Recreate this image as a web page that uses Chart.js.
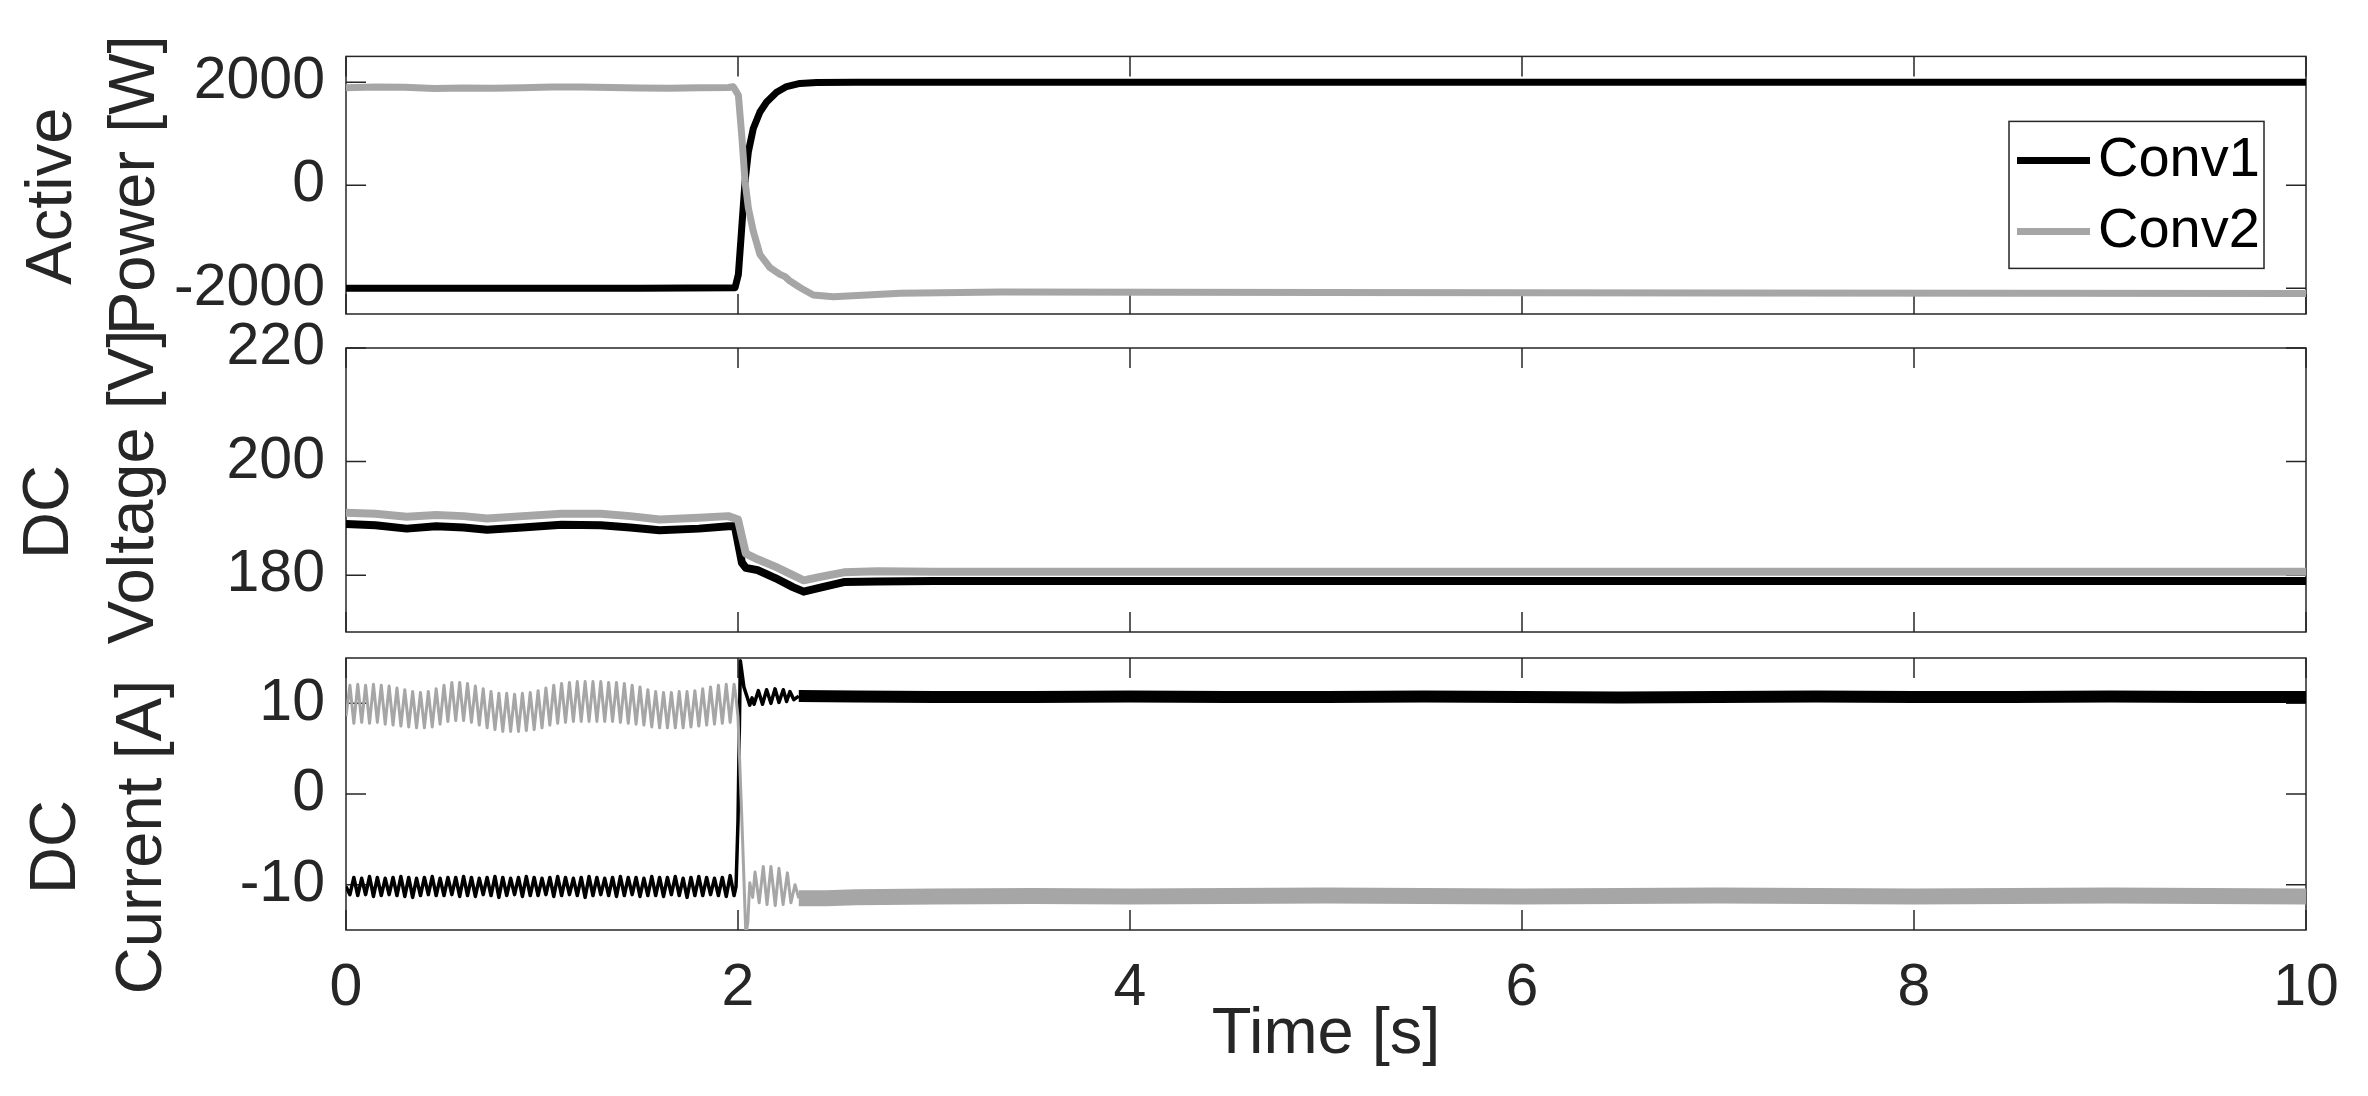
<!DOCTYPE html>
<html>
<head>
<meta charset="utf-8">
<script src="https://cdn.jsdelivr.net/npm/chart.js@4.4.1/dist/chart.umd.min.js"></script>
<style>
  html, body { margin: 0; padding: 0; background: #fff; }
  #wrap { position: relative; width: 2368px; height: 1096px; }
  #wrap canvas { position: absolute; left: 0; top: 0; }
</style>
</head>
<body>
<div id="wrap">
  <canvas id="pCanvas" width="2368" height="1096" style="width:2368px;height:1096px"></canvas>
  <canvas id="vCanvas" width="2368" height="1096" style="width:2368px;height:1096px"></canvas>
  <canvas id="iCanvas" width="2368" height="1096" style="width:2368px;height:1096px"></canvas>
</div>
<script>
const FONT = "'Liberation Sans', Arial, Helvetica, sans-serif";
const INK = '#262626';
const BLACK = '#000000';
const GREY = '#a6a6a6';

const SERIES = ['Conv1', 'Conv2'];
const X_TICKS = [0, 2, 4, 6, 8, 10];
const P_TICKS = [-2000, 0, 2000];
const V_TICKS = [180, 200, 220];
const I_TICKS = [-10, 0, 10];

// active power [W]
const P1_T = [0, 0.5, 1.0, 1.5, 1.985, 2.002, 2.019, 2.036, 2.053, 2.078, 2.112, 2.146, 2.197, 2.248, 2.316, 2.401, 2.6, 4, 6, 8, 10];
const P1 = [-2000, -2000, -2000, -2000, -1990, -1730, -830, 70, 650, 1100, 1420, 1615, 1805, 1915, 1975, 1995, 2000, 2000, 2000, 2000, 2000];
const P2_T = [0, 0.15, 0.3, 0.45, 0.6, 0.75, 0.9, 1.05, 1.2, 1.35, 1.5, 1.65, 1.8, 1.95, 1.976, 2.002, 2.019, 2.036, 2.053, 2.078, 2.112, 2.163, 2.214, 2.24, 2.265, 2.316, 2.384, 2.486, 2.657, 2.827, 3.34, 5, 7, 10];
const P2 = [1890, 1905, 1900, 1875, 1885, 1880, 1890, 1905, 1905, 1895, 1885, 1880, 1890, 1895, 1910, 1745, 970, 70, -445, -895, -1345, -1600, -1730, -1775, -1860, -1985, -2130, -2165, -2130, -2095, -2075, -2085, -2090, -2100];

// dc voltage [V]
const V1_T = [0, 0.15, 0.31, 0.46, 0.6, 0.72, 0.9, 1.1, 1.3, 1.45, 1.6, 1.8, 1.95, 1.984, 2.02, 2.04, 2.1, 2.19, 2.28, 2.335, 2.42, 2.54, 2.71, 3.0, 5, 7, 10];
const V1 = [189.0, 188.8, 188.2, 188.6, 188.4, 188.0, 188.4, 188.9, 188.8, 188.4, 187.9, 188.2, 188.6, 188.6, 182.2, 181.3, 180.9, 179.5, 177.9, 177.1, 177.8, 178.8, 178.9, 179.0, 179.0, 179.0, 179.0];
const V2_T = [0, 0.15, 0.31, 0.46, 0.6, 0.72, 0.9, 1.1, 1.3, 1.45, 1.6, 1.8, 1.95, 2.0, 2.04, 2.1, 2.19, 2.28, 2.335, 2.42, 2.54, 2.71, 3.0, 5, 7, 10];
const V2 = [191.0, 190.8, 190.3, 190.6, 190.4, 190.0, 190.4, 190.8, 190.8, 190.4, 189.8, 190.1, 190.4, 189.8, 183.8, 182.8, 181.5, 180.0, 179.1, 179.7, 180.5, 180.7, 180.6, 180.6, 180.6, 180.6];

// dc current [A], before the step: one sample every PRE_STEP seconds
const PRE_STEP = 0.02;
const I1_PRE = [
  -10.2, -11.1, -9.2, -11.2, -9.3, -11.1, -9.1, -11.3, -9.2, -11.2,
  -9.3, -11.1, -9.2, -11.2, -9.1, -11.3, -9.2, -11.4, -9.3, -11.2,
  -9.2, -11.1, -9.1, -11.2, -9.3, -11.2, -9.2, -11.1, -9.2, -11.3,
  -9.1, -11.2, -9.2, -11.3, -9.3, -11.1, -9.2, -11.2, -9.1, -11.4,
  -9.2, -11.2, -9.3, -11.1, -9.2, -11.3, -9.1, -11.2, -9.2, -11.2,
  -9.3, -11.1, -9.2, -11.3, -9.1, -11.2, -9.2, -11.1, -9.3, -11.2,
  -9.2, -11.4, -9.1, -11.2, -9.2, -11.1, -9.3, -11.2, -9.2, -11.3,
  -9.1, -11.2, -9.2, -11.1, -9.2, -11.3, -9.3, -11.2, -9.1, -11.2,
  -9.2, -11.3, -9.2, -11.1, -9.1, -11.2, -9.3, -11.4, -9.2, -11.2,
  -9.1, -11.2, -9.2, -11.1, -9.3, -11.2, -9.2, -11.3, -9.0, -11.2
];
const I2_PRE = [
  8.6, 12.0, 7.8, 12.1, 7.9, 12.0, 7.8, 12.1, 7.9, 12.0,
  7.7, 11.9, 7.6, 11.7, 7.5, 11.5, 7.4, 11.3, 7.3, 11.2,
  7.3, 11.3, 7.4, 11.6, 7.7, 12.0, 8.0, 12.3, 8.1, 12.3,
  8.1, 12.2, 7.9, 11.9, 7.6, 11.6, 7.3, 11.3, 7.1, 11.1,
  6.9, 11.1, 6.9, 11.0, 6.9, 11.1, 7.0, 11.2, 7.1, 11.4,
  7.3, 11.7, 7.6, 12.0, 7.8, 12.2, 7.9, 12.3, 8.0, 12.4,
  8.0, 12.4, 8.0, 12.4, 8.0, 12.4, 8.0, 12.3, 8.0, 12.3,
  7.9, 12.2, 7.8, 12.0, 7.7, 11.8, 7.6, 11.5, 7.4, 11.3,
  7.3, 11.2, 7.3, 11.2, 7.3, 11.3, 7.3, 11.3, 7.4, 11.4,
  7.5, 11.6, 7.6, 11.8, 7.7, 12.0, 7.8, 12.1, 7.9, 12.1
];
// dc current [A], step and after
const I1_POST_T = [1.99, 2.0, 2.012, 2.03, 2.06, 2.072, 2.082, 2.104, 2.125, 2.146, 2.168, 2.189, 2.209, 2.231, 2.248, 2.265, 2.285, 2.31,
  2.6, 3, 3.5, 4, 4.5, 5, 5.5, 6, 6.5, 7, 7.5, 8, 8.5, 9, 9.5, 10];
const I1_POST = [-10.2, -3.0, 14.7, 11.8, 9.8, 10.6, 9.9, 11.4, 9.9, 11.5, 10.0, 11.6, 10.1, 11.5, 10.2, 11.3, 10.4, 10.8,
  10.75, 10.7, 10.7, 10.75, 10.7, 10.7, 10.75, 10.7, 10.65, 10.7, 10.75, 10.7, 10.7, 10.75, 10.7, 10.7];
const I2_POST_T = [1.99, 2.0, 2.02, 2.04, 2.05, 2.06, 2.075, 2.087, 2.108, 2.129, 2.148, 2.168, 2.19, 2.209, 2.23, 2.252, 2.27, 2.291, 2.31, 2.45,
  2.6, 3, 3.5, 4, 4.5, 5, 5.5, 6, 6.5, 7, 7.5, 8, 8.5, 9, 9.5, 10];
const I2_POST = [10.6, 8.5, -3.0, -15.5, -14.2, -9.8, -11.4, -8.6, -12.0, -8.0, -12.2, -8.0, -12.3, -8.2, -12.2, -8.7, -12.0, -10.0, -11.5, -11.5,
  -11.4, -11.3, -11.25, -11.3, -11.25, -11.2, -11.25, -11.3, -11.25, -11.2, -11.25, -11.3, -11.25, -11.2, -11.25, -11.3];
const BAND_FROM = 2.3;   // from here the current ripple is a dense band

const pts = (ts, vs) => vs.map((v, i) => ({ x: ts[i], y: v }));
const prePts = vs => vs.map((v, i) => ({ x: i * PRE_STEP, y: v }));

// box around the plot area with inward ticks on all four sides
const frame = {
  id: 'frame',
  beforeDatasetsDraw(chart) {
    const { ctx, chartArea: a, scales: { x, y } } = chart;
    const len = 20;
    ctx.save();
    ctx.strokeStyle = INK;
    ctx.lineWidth = 1.5;
    ctx.beginPath();
    x.ticks.forEach(t => {
      const px = x.getPixelForValue(t.value);
      ctx.moveTo(px, a.top); ctx.lineTo(px, a.top + len);
      ctx.moveTo(px, a.bottom); ctx.lineTo(px, a.bottom - len);
    });
    y.ticks.forEach(t => {
      const py = y.getPixelForValue(t.value);
      ctx.moveTo(a.left, py); ctx.lineTo(a.left + len, py);
      ctx.moveTo(a.right, py); ctx.lineTo(a.right - len, py);
    });
    ctx.stroke();
    ctx.strokeRect(a.left, a.top, a.right - a.left, a.bottom - a.top);
    ctx.restore();
  }
};

// two-line rotated y label, allowed to run past its own panel
const sideTitle = {
  id: 'sideTitle',
  afterDraw(chart, args, opts) {
    const { ctx, scales: { y } } = chart;
    const mid = (y.top + y.bottom) / 2;
    ctx.save();
    ctx.fillStyle = INK;
    ctx.font = opts.size + 'px ' + FONT;
    ctx.textAlign = 'center';
    ctx.textBaseline = 'middle';
    opts.lines.forEach((txt, i) => {
      ctx.save();
      ctx.translate(opts.x[i], mid + opts.dy[i]);
      ctx.rotate(-Math.PI / 2);
      ctx.fillText(txt, 0, 0);
      ctx.restore();
    });
    ctx.restore();
  }
};

// boxed legend inside the top panel
const boxLegend = {
  id: 'boxLegend',
  afterDraw(chart, args, opts) {
    if (!opts.show) return;
    const { ctx, chartArea: a } = chart;
    const right = a.right - opts.right;
    const left = right - opts.width;
    const top = a.top + opts.top;
    ctx.save();
    ctx.fillStyle = '#fff';
    ctx.fillRect(left, top, opts.width, opts.height);
    ctx.strokeStyle = INK;
    ctx.lineWidth = 1.5;
    ctx.strokeRect(left, top, opts.width, opts.height);
    ctx.font = opts.size + 'px ' + FONT;
    ctx.textBaseline = 'middle';
    ctx.textAlign = 'left';
    chart.data.datasets.forEach((ds, i) => {
      const yy = top + opts.row0 + i * opts.rowGap;
      ctx.strokeStyle = ds.borderColor;
      ctx.lineWidth = ds.borderWidth;
      ctx.beginPath();
      ctx.moveTo(left + 8, yy);
      ctx.lineTo(left + 81, yy);
      ctx.stroke();
      ctx.fillStyle = '#000';
      ctx.fillText(ds.label, left + 89, yy);
    });
    ctx.restore();
  }
};

function panel(id, datasets, yMin, yMax, yTicks, pad, title, withX, legend) {
  return new Chart(document.getElementById(id), {
    type: 'line',
    data: { datasets: datasets },
    options: {
      responsive: false,
      animation: false,
      events: [],
      layout: { padding: pad },
      elements: {
        point: { radius: 0 },
        line: { tension: 0, borderJoinStyle: 'round' }
      },
      plugins: {
        legend: { display: false },
        tooltip: { enabled: false },
        sideTitle: title,
        boxLegend: legend || { show: false }
      },
      scales: {
        x: {
          type: 'linear',
          min: 0,
          max: 10,
          display: withX,
          afterBuildTicks: s => { s.ticks = X_TICKS.map(v => ({ value: v })); },
          afterFit: s => { s.height = withX ? 144 : 0; },
          grid: { display: false, drawTicks: false },
          border: { display: false },
          ticks: { font: { family: FONT, size: 59 }, color: INK, padding: 23, maxRotation: 0, callback: v => v },
          title: { display: withX, text: 'Time [s]', font: { family: FONT, size: 65 }, color: INK, padding: 0 }
        },
        y: {
          type: 'linear',
          min: yMin,
          max: yMax,
          afterBuildTicks: s => { s.ticks = yTicks.map(v => ({ value: v })); },
          afterFit: s => { s.width = 346; },
          grid: { display: false, drawTicks: false },
          border: { display: false },
          ticks: { font: { family: FONT, size: 59 }, color: INK, padding: 21, callback: v => v }
        }
      }
    },
    plugins: [frame, sideTitle, boxLegend]
  });
}

panel('pCanvas', [
  { label: SERIES[0], data: pts(P1_T, P1), borderColor: BLACK, borderWidth: 7, order: 1 },
  { label: SERIES[1], data: pts(P2_T, P2), borderColor: GREY, borderWidth: 7, order: 0 }
], -2500, 2500, P_TICKS, { top: 53, bottom: 782, left: 0, right: 62 },
  { lines: ['Active', 'Power [W]'], x: [53, 136], dy: [11, 0], size: 65 }, false,
  { show: true, right: 42, top: 65, width: 255, height: 147, row0: 39, rowGap: 71, size: 56 });

panel('vCanvas', [
  { label: SERIES[0], data: pts(V1_T, V1), borderColor: BLACK, borderWidth: 8, order: 1 },
  { label: SERIES[1], data: pts(V2_T, V2), borderColor: GREY, borderWidth: 8, order: 0 }
], 170, 220, V_TICKS, { top: 348, bottom: 464, left: 0, right: 62 },
  { lines: ['DC', 'Voltage [V]'], x: [50, 135], dy: [22, -3], size: 65 }, false);

panel('iCanvas', [
  { label: SERIES[0], data: prePts(I1_PRE).concat(pts(I1_POST_T, I1_POST)), borderColor: BLACK, borderWidth: 3.5, order: 1,
    segment: { borderWidth: c => (c.p0.parsed.x >= BAND_FROM ? 12 : 3.5) } },
  { label: SERIES[1], data: prePts(I2_PRE).concat(pts(I2_POST_T, I2_POST)), borderColor: GREY, borderWidth: 3, order: 0,
    segment: { borderWidth: c => (c.p0.parsed.x >= BAND_FROM ? 16 : 3) } }
], -15, 15, I_TICKS, { top: 658, bottom: 22, left: 0, right: 62 },
  { lines: ['DC', 'Current [A]'], x: [57, 143], dy: [53, 43], size: 65 }, true);
</script>
</body>
</html>
